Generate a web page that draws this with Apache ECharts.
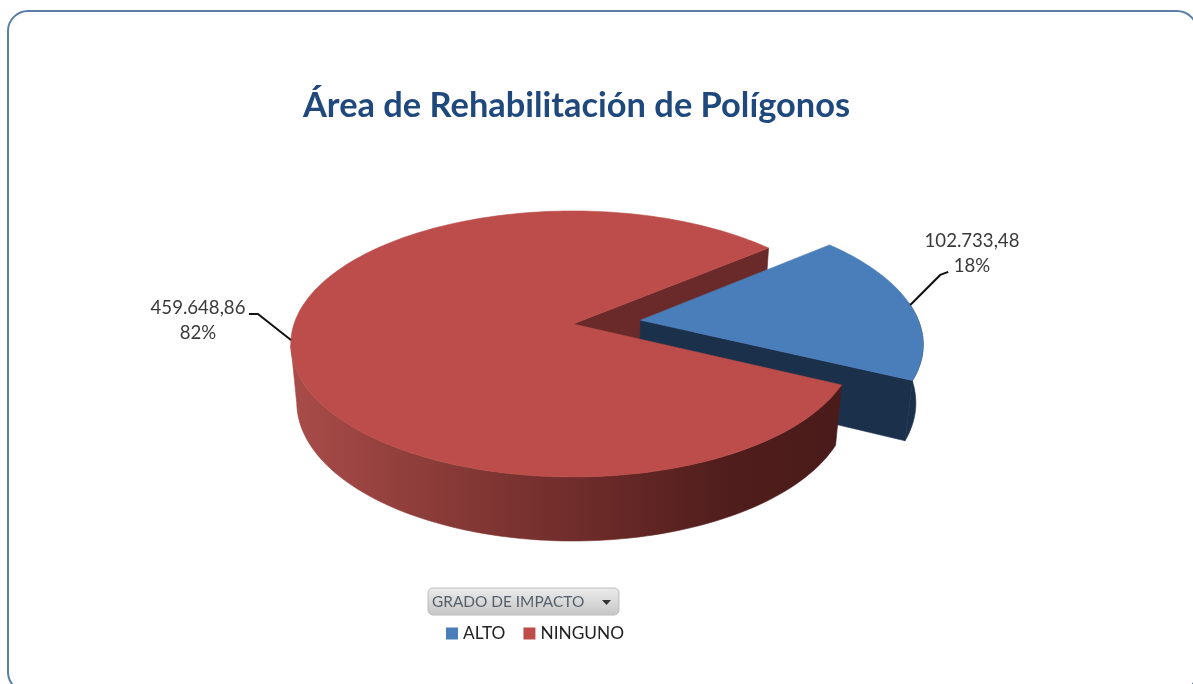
<!DOCTYPE html>
<html>
<head>
<meta charset="utf-8">
<title>Área de Rehabilitación de Polígonos</title>
<script src="https://cdn.jsdelivr.net/npm/echarts@6/dist/echarts.min.js"></script>
<style>
  html, body { margin: 0; padding: 0; background: #fff; }
  #chart { width: 1193px; height: 684px; }
</style>
</head>
<body>
<div id="chart"></div>
<script>
// data
var categories = ['ALTO', 'NINGUNO'];
var values = [102733.48, 459648.86];
var valueLabels = ['102.733,48', '459.648,86'];
var percentLabels = ['18%', '82%'];
var colors = ['#4a7ebb', '#bc4d4a'];
var sideColors = ['#1b304b', '#6b2a2a'];

// the 3d look: a flat disc put through a small perspective
var cx = 573, cy = 324;
var radiusX = 279, radiusY = 130;
var perspective = 0.15;
var depth = 59, depthShrink = 0.021;
var firstAngle = -39.8;
var explode = 0.245;

var total = values[0] + values[1];
var altoSweep = values[0] / total * 360;

function rad(a) { return a * Math.PI / 180; }

// ground point -> screen, level 0 is the top face, 1 the bottom face
function project(gx, gy, level) {
  var w = 1 - perspective * gy + depthShrink * level;
  return [cx + radiusX * gx / w, cy + (radiusY * gy + depth * level) / w];
}

function ground(angle, r, off) {
  var x = r * Math.cos(rad(angle));
  var y = r * Math.sin(rad(angle));
  return [x + (off ? off[0] : 0), y + (off ? off[1] : 0)];
}

function arc(from, to, level, off) {
  var pts = [];
  var n = Math.ceil(Math.abs(to - from) / 1.5);
  for (var i = 0; i <= n; i++) {
    var g = ground(from + (to - from) * i / n, 1, off);
    pts.push(project(g[0], g[1], level));
  }
  return pts;
}

function poly(points, fill) {
  return { type: 'polygon', shape: { points: points }, style: { fill: fill, stroke: fill, lineWidth: 0.6 } };
}

// band between top edge and bottom edge of an arc
function rim(from, to, off, fill) {
  var upper = arc(from, to, 0, off);
  var lower = arc(from, to, 1, off).reverse();
  return poly(upper.concat(lower), fill);
}

function wall(angle, off, fill) {
  var c = off || [0, 0];
  var e = ground(angle, 1, off);
  return poly([
    project(c[0], c[1], 0), project(e[0], e[1], 0),
    project(e[0], e[1], 1), project(c[0], c[1], 1)
  ], fill);
}

function topFace(from, to, off, fill) {
  var c = off || [0, 0];
  return poly([project(c[0], c[1], 0)].concat(arc(from, to, 0, off)), fill);
}

function sliceLabel(idx, anchor, mid, end, tx, ty) {
  return [
    { type: 'polyline', shape: { points: [anchor, mid, end] }, style: { stroke: '#111', lineWidth: 2, fill: null } },
    { type: 'text', style: { text: valueLabels[idx] + '\n' + percentLabels[idx], x: tx, y: ty, align: 'center', verticalAlign: 'middle',
      font: '18.6px Lato', lineHeight: 25, fill: '#3a3a3a' } }
  ];
}

function renderRedWall(params, api) {
  return wall(firstAngle, null, sideColors[1]);
}

function renderAlto(params, api) {
  var sweep = api.value(0) / total * 360;
  var mid = firstAngle + sweep / 2;
  var off = ground(mid, explode);
  var end = firstAngle + sweep;
  var a = ground(mid, 1, off);
  var anchor = project(a[0], a[1], 0);
  return {
    type: 'group',
    children: [
      wall(end, off, sideColors[0]),
      rim(mid - 1, end, off, sideColors[0]),
      topFace(firstAngle, end, off, colors[0])
    ].concat(sliceLabel(0, anchor, [anchor[0] + 30, anchor[1] - 30], [anchor[0] + 38, anchor[1] - 33], 972, 253))
  };
}

function renderNinguno(params, api) {
  var sweep = api.value(0) / total * 360;
  var from = firstAngle + altoSweep;
  var to = from + sweep;
  var a = ground((from + to) / 2, 1);
  var anchor = project(a[0], a[1], 0);
  var shade = new echarts.graphic.LinearGradient(0, 0, 1, 0, [
    { offset: 0, color: '#a94c49' },
    { offset: 0.3, color: '#863936' },
    { offset: 0.6, color: '#662826' },
    { offset: 0.8, color: '#4f1d1c' },
    { offset: 1, color: '#4a1b1a' }
  ]);
  return {
    type: 'group',
    children: [
      rim(from, 171, null, shade),
      topFace(from, to, null, colors[1])
    ].concat(sliceLabel(1, anchor, [anchor[0] - 33, anchor[1] - 26], [anchor[0] - 42, anchor[1] - 26], 198, 320))
  };
}

var myChart = echarts.init(document.getElementById('chart'), null, { renderer: 'canvas' });
myChart.setOption({
  animation: false,
  backgroundColor: '#fff',
  title: {
    text: 'Área de Rehabilitación de Polígonos',
    left: 298,
    top: 84,
    itemGap: 0,
    textStyle: { color: '#1f497d', fontFamily: 'Lato', fontWeight: 'bold', fontSize: 34.4 }
  },
  legend: {
    data: categories,
    left: 441,
    top: 620,
    icon: 'rect',
    itemWidth: 12,
    itemHeight: 12,
    itemGap: 18,
    selectedMode: false,
    textStyle: { color: '#222', fontFamily: 'Lato', fontSize: 17.3 }
  },
  graphic: [
    { type: 'rect', silent: true, z: -1, shape: { x: 8, y: 11, width: 1189, height: 681, r: 20 },
      style: { fill: '#fff', stroke: '#5a7ea8', lineWidth: 2 } },
    { type: 'rect', silent: true, shape: { x: 428, y: 588, width: 191, height: 27, r: 5 },
      style: { stroke: '#bdbdbd', lineWidth: 1,
        fill: new echarts.graphic.LinearGradient(0, 0, 0, 1, [
          { offset: 0, color: '#ececec' }, { offset: 1, color: '#c6c6c6' }
        ]) } },
    { type: 'text', silent: true, style: { text: 'GRADO DE IMPACTO', x: 432, y: 602, verticalAlign: 'middle',
      font: '15.4px Lato', fill: '#555f6b' } },
    { type: 'polygon', silent: true, shape: { points: [[602, 600], [611, 600], [606.5, 605]] }, style: { fill: '#333' } }
  ],
  series: [
    { type: 'custom', coordinateSystem: 'none', name: 'pared', silent: true, renderItem: renderRedWall, data: [[values[1]]] },
    { type: 'custom', coordinateSystem: 'none', name: categories[0], silent: true, renderItem: renderAlto, data: [[values[0]]], itemStyle: { color: colors[0] } },
    { type: 'custom', coordinateSystem: 'none', name: categories[1], silent: true, renderItem: renderNinguno, data: [[values[1]]], itemStyle: { color: colors[1] } }
  ]
});
</script>
</body>
</html>
